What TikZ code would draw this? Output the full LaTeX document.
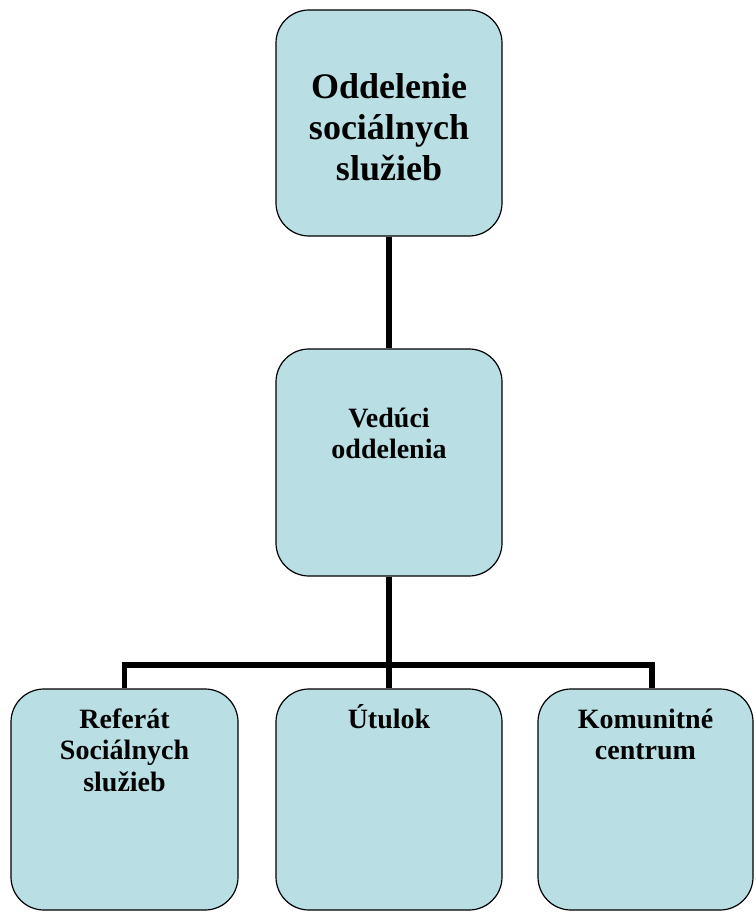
\documentclass[tikz,border=0pt]{standalone}
\usepackage{fontspec}
\setmainfont{Liberation Serif}
\definecolor{boxblue}{RGB}{185,223,228}
% width, height, first baseline from top, text
\newcommand{\unittext}[4]{\parbox[c][#2][t]{#1}{\centering
  \vspace*{\dimexpr#3-30pt\relax}\rule{0pt}{30pt}#4}}

\begin{document}
\begin{tikzpicture}[x=1pt, y=-1pt,
  unit/.style = {shape=rectangle, rounded corners=33pt,
    draw, line width=1.2pt, fill=boxblue, inner sep=0pt,
    font=\bfseries\fontsize{28}{31.5}\selectfont},
  link/.style = {line width=5.5pt}]
  \useasboundingbox (0,0) rectangle (755,912);
  \node[unit, font=\bfseries\fontsize{36}{41}\selectfont] (odd) at (389,123)
    {\unittext{226pt}{226pt}{89pt}{Oddelenie\\ sociálnych\\ služieb}};
  \node[unit] (ved) at (389,462.5)
    {\unittext{226pt}{227pt}{78pt}{Vedúci\\ oddelenia}};
  \node[unit] (ref) at (124.5,799.5)
    {\unittext{227pt}{221pt}{39pt}{Referát\\ Sociálnych\\ služieb}};
  \node[unit] (utu) at (389,799.5)
    {\unittext{226pt}{221pt}{39pt}{Útulok}};
  \node[unit] (kom) at (645.5,799.5)
    {\unittext{215pt}{221pt}{39pt}{Komunitné\\ centrum}};
  \coordinate (bus) at (389,665);
  \draw[link] (odd) -- (ved);
  \draw[link] (ved) -- (utu);
  \draw[link] (ref.north) |- (bus) -| ([xshift=6.5pt]kom.north);
\end{tikzpicture}
\end{document}
